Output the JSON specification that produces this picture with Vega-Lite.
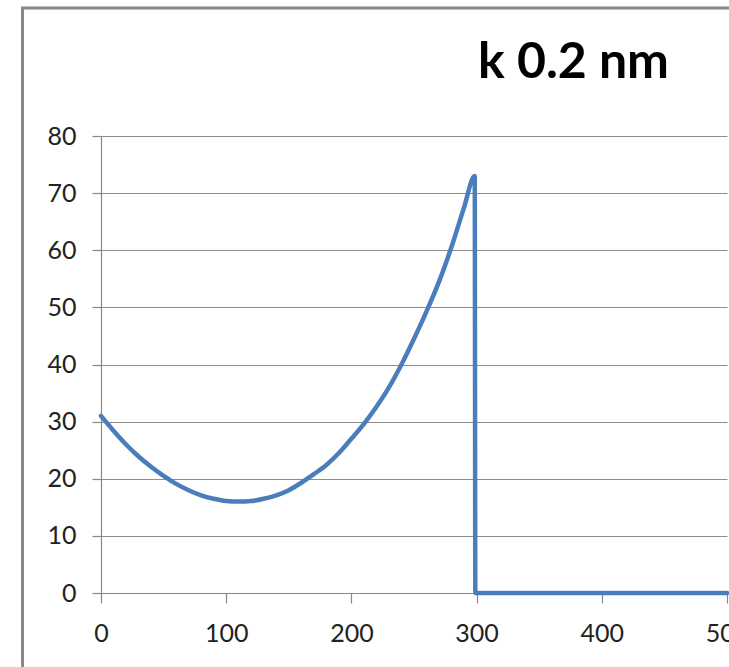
{
  "$schema": "https://vega.github.io/schema/vega-lite/v6.json",
  "width": 626,
  "height": 457,
  "autosize": {"type": "none"},
  "padding": {"left": 101, "top": 136, "right": 2, "bottom": 74},
  "background": "white",
  "title": {
    "text": "k 0.2 nm",
    "font": "Lato",
    "fontWeight": "bold",
    "fontSize": 50,
    "color": "#000000",
    "anchor": "start",
    "baseline": "alphabetic",
    "dx": 377,
    "offset": -121,
    "frame": "group"
  },
  "config": {
    "view": {"stroke": null},
    "axis": {
      "labelFont": "Lato",
      "labelFontSize": 25,
      "labelColor": "#222222",
      "labelFlush": false,
      "labelOverlap": false,
      "domainColor": "#888888",
      "tickColor": "#888888",
      "gridColor": "#8c8c8c",
      "gridWidth": 1,
      "domainWidth": 1.2,
      "tickWidth": 1.2,
      "tickSize": 9,
      "title": null
    }
  },
  "datasets": {
    "curve": [
      {"i": 0, "x": 0, "y": 31.0},
      {"i": 1, "x": 10, "y": 28.4},
      {"i": 2, "x": 20, "y": 26.0},
      {"i": 3, "x": 30, "y": 23.9},
      {"i": 4, "x": 40, "y": 22.1},
      {"i": 5, "x": 50, "y": 20.5},
      {"i": 6, "x": 60, "y": 19.1},
      {"i": 7, "x": 70, "y": 18.0},
      {"i": 8, "x": 80, "y": 17.1},
      {"i": 9, "x": 90, "y": 16.5},
      {"i": 10, "x": 100, "y": 16.1},
      {"i": 11, "x": 110, "y": 16.0},
      {"i": 12, "x": 120, "y": 16.1},
      {"i": 13, "x": 130, "y": 16.5},
      {"i": 14, "x": 140, "y": 17.1},
      {"i": 15, "x": 150, "y": 18.0},
      {"i": 16, "x": 160, "y": 19.3},
      {"i": 17, "x": 170, "y": 20.8},
      {"i": 18, "x": 180, "y": 22.4},
      {"i": 19, "x": 190, "y": 24.5},
      {"i": 20, "x": 200, "y": 27.0},
      {"i": 21, "x": 210, "y": 29.6},
      {"i": 22, "x": 220, "y": 32.6},
      {"i": 23, "x": 230, "y": 36.0},
      {"i": 24, "x": 240, "y": 40.0},
      {"i": 25, "x": 250, "y": 44.5},
      {"i": 26, "x": 260, "y": 49.3},
      {"i": 27, "x": 270, "y": 54.5},
      {"i": 28, "x": 280, "y": 60.6},
      {"i": 29, "x": 290, "y": 67.5},
      {"i": 30, "x": 298.5, "y": 73.0},
      {"i": 31, "x": 299, "y": 0},
      {"i": 32, "x": 500, "y": 0}
    ],
    "frame": [{"x1": -62.7, "x2": 620, "y1": 102.4, "y2": -20}]
  },
  "layer": [
    {
      "data": {"name": "frame"},
      "mark": {"type": "rect", "fill": null, "stroke": "#888888", "strokeWidth": 3, "clip": false},
      "encoding": {
        "x": {"field": "x1", "type": "quantitative", "scale": {"domain": [0, 500], "nice": false, "zero": false},
              "axis": {"values": [0, 100, 200, 300, 400, 500], "grid": false, "labelPadding": 18, "tickSize": 10}},
        "x2": {"field": "x2"},
        "y": {"field": "y1", "type": "quantitative", "scale": {"domain": [0, 80], "nice": false, "zero": false},
              "axis": {"values": [0, 10, 20, 30, 40, 50, 60, 70, 80], "grid": true, "labelPadding": 16}},
        "y2": {"field": "y2"}
      }
    },
    {
      "data": {"name": "curve"},
      "mark": {"type": "line", "color": "#4A7EBB", "strokeWidth": 4.5, "strokeCap": "round", "strokeJoin": "round", "interpolate": "monotone", "clip": false},
      "encoding": {
        "x": {"field": "x", "type": "quantitative"},
        "y": {"field": "y", "type": "quantitative"},
        "order": {"field": "i", "type": "quantitative"}
      }
    }
  ]
}
